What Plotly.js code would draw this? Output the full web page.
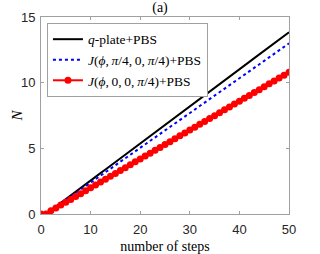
<!DOCTYPE html>
<html><head><meta charset="utf-8">
<script src="https://cdn.plot.ly/plotly-3.0.1.min.js"></script>
<style>html,body{margin:0;padding:0;background:#fff}#c{width:320px;height:254px}</style>
</head><body><div id="c"></div>
<script>
const steps = [0,1,2,3,4,5,6,7,8,9,10,11,12,13,14,15,16,17,18,19,20,21,22,23,24,25,26,27,28,29,30,31,32,33,34,35,36,37,38,39,40,41,42,43,44,45,46,47,48,49,50];
const qplate = [0,0,0.28,0.57,0.85,1.13,1.41,1.70,1.98,2.26,2.54,2.83,3.11,3.39,3.67,3.96,4.24,4.52,4.80,5.09,5.37,5.65,5.93,6.22,6.50,6.78,7.06,7.35,7.63,7.91,8.19,8.48,8.76,9.04,9.32,9.61,9.89,10.17,10.45,10.74,11.02,11.30,11.58,11.87,12.15,12.43,12.71,13.00,13.28,13.56,13.84];
const jPi4 = [0,0,0.27,0.53,0.80,1.06,1.33,1.59,1.86,2.12,2.39,2.65,2.92,3.18,3.45,3.71,3.98,4.24,4.51,4.77,5.04,5.30,5.57,5.83,6.10,6.36,6.63,6.89,7.16,7.42,7.69,7.95,8.22,8.48,8.75,9.01,9.28,9.54,9.81,10.07,10.34,10.60,10.87,11.13,11.40,11.66,11.93,12.19,12.46,12.72,12.99];
const j00 = [0,0,0.25,0.46,0.68,0.89,1.11,1.33,1.55,1.77,1.99,2.21,2.43,2.65,2.87,3.09,3.31,3.53,3.75,3.97,4.19,4.41,4.63,4.85,5.07,5.29,5.51,5.73,5.95,6.17,6.39,6.61,6.83,7.05,7.27,7.49,7.71,7.93,8.15,8.37,8.59,8.81,9.03,9.25,9.47,9.69,9.91,10.13,10.35,10.57,10.79];
const names = ['<i>q</i>-plate+PBS','<i>J</i>(<i>ϕ</i>,\u2009<i>π</i>/4,\u20090,\u2009<i>π</i>/4)+PBS','<i>J</i>(<i>ϕ</i>,\u20090,\u20090,\u2009<i>π</i>/4)+PBS'];
const xTicks = [0,10,20,30,40,50];
const yTicks = [0,5,10,15];

const serif = 'Liberation Serif, DejaVu Serif, serif';
const sans = 'Liberation Sans, Arial, sans-serif';
const traces = [
  {x: steps, y: qplate, name: names[0], mode:'lines', line:{color:'#000000', width:2}},
  {x: steps, y: jPi4, name: names[1], mode:'lines', line:{color:'#0000ff', width:2, dash:'dot'}},
  {x: steps, y: j00, name: names[2], mode:'lines+markers', line:{color:'#ff0000', width:2}, marker:{color:'#ff0000', size:7, symbol:'circle'}}
];
const axisCommon = {
  showgrid:false, zeroline:false, showline:true, linecolor:'#a0a0a0', linewidth:1,
  mirror:'ticks', ticks:'inside', ticklen:3, tickcolor:'#a0a0a0',
  tickfont:{family:sans, size:13, color:'#262626'}
};
const layout = {
  width:320, height:254,
  margin:{l:41, r:31, t:17, b:40, pad:0},
  paper_bgcolor:'#fff', plot_bgcolor:'#fff',
  title:{text:'(a)', font:{family:serif, size:14, color:'#000'}, x:0.5, xanchor:'center', y:0.99, yanchor:'top'},
  xaxis: Object.assign({}, axisCommon, {range:[0,50], tickvals:xTicks, ticktext:xTicks.map(String), ticklabelstandoff:3,
    title:{text:'number of steps', font:{family:serif, size:14, color:'#000'}, standoff:6}}),
  yaxis: Object.assign({}, axisCommon, {range:[0,15], tickvals:yTicks, ticktext:yTicks.map(String), ticklabelstandoff:2}),
  annotations:[{text:'<i>N</i>', xref:'paper', yref:'paper', x:-0.097, y:0.5, xanchor:'center', yanchor:'middle',
    textangle:-90, showarrow:false, font:{family:serif, size:15, color:'#000'}}],
  legend:{x:0.024, y:0.97, xanchor:'left', yanchor:'top', bgcolor:'#fff', bordercolor:'#a0a0a0', borderwidth:1,
    font:{family:serif, size:13.5, color:'#000'}, tracegroupgap:0, itemwidth:30},
  showlegend:true
};
Plotly.newPlot('c', traces, layout, {staticPlot:true, displayModeBar:false});
</script></body></html>
